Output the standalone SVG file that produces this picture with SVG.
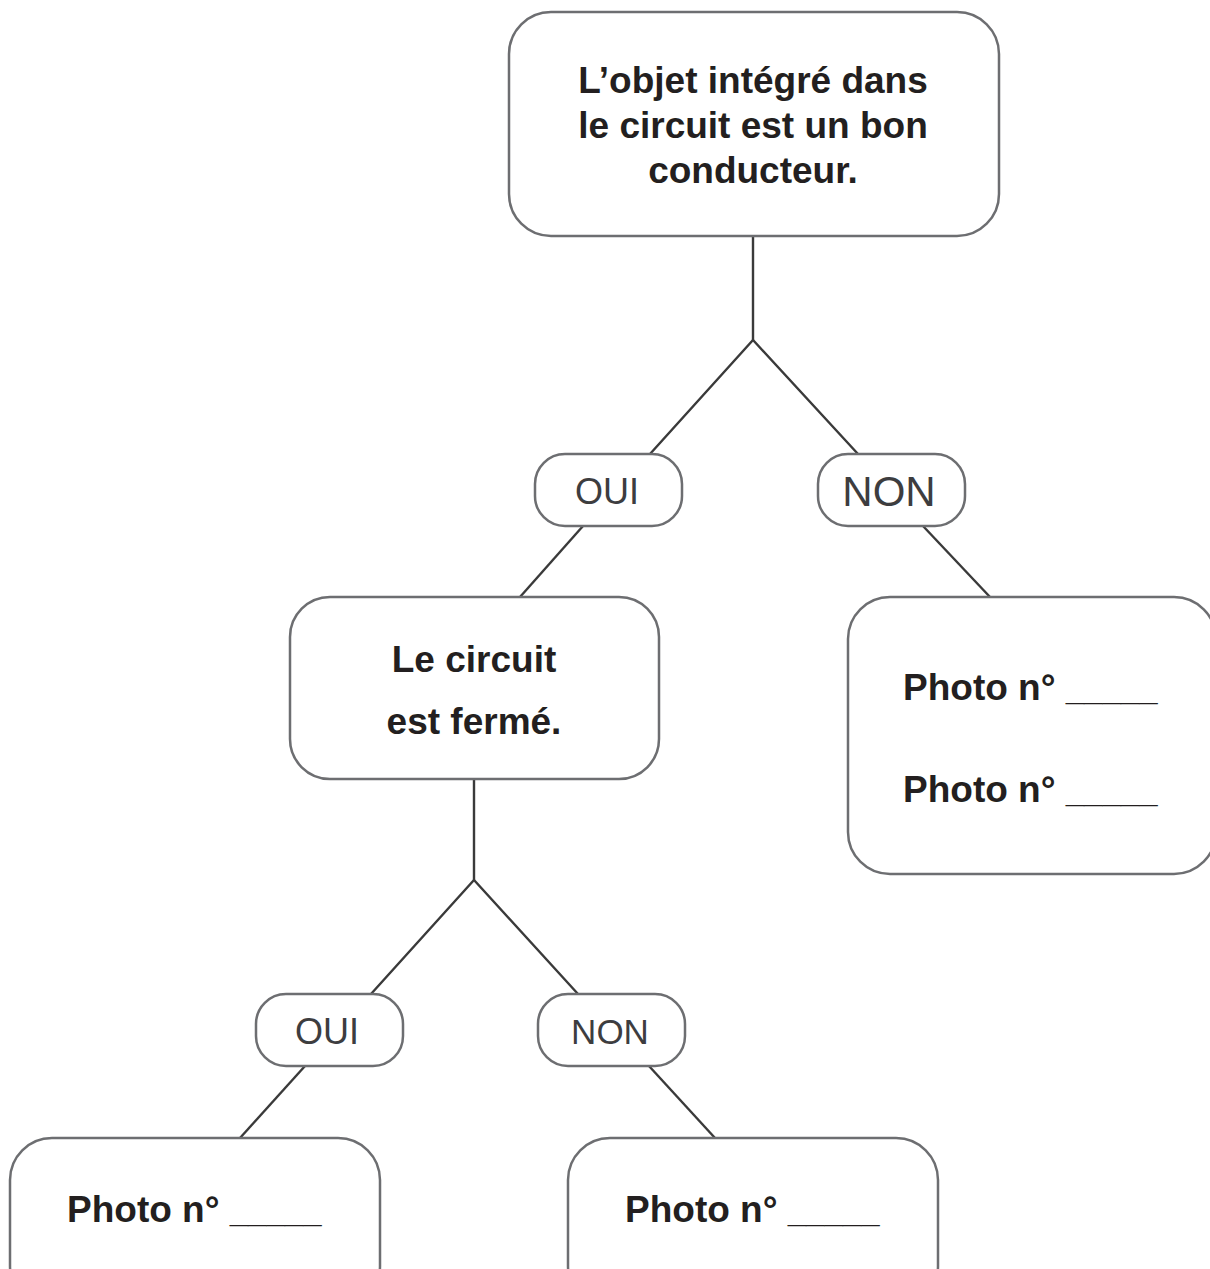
<svg xmlns="http://www.w3.org/2000/svg" width="1210" height="1269" viewBox="0 0 1210 1269">
<style>
.box{fill:#fff;stroke:#6d6e71;stroke-width:2.5}
.tag{fill:#fff;stroke:#6d6e71;stroke-width:2.5}
.t{font-family:"Liberation Sans",Arial,sans-serif;font-weight:bold;font-size:37px;fill:#231f20}
.u{font-size:33px}
.l{font-family:"Liberation Sans",Arial,sans-serif;font-size:36px;fill:#3d3d3f;text-anchor:middle}
.c{fill:none;stroke:#3a3a3a;stroke-width:2.4}
</style>
<rect width="1210" height="1269" fill="#fff"/>
<g id="connectors">
<polyline class="c" points="753,236 753,340"/>
<polyline class="c" points="650,454 753,340 858,454"/>
<line class="c" x1="583" y1="526" x2="520" y2="597"/>
<line class="c" x1="923" y1="526" x2="990" y2="597"/>
<polyline class="c" points="474,780 474,880"/>
<polyline class="c" points="371,994 474,880 578,994"/>
<line class="c" x1="305" y1="1066" x2="240" y2="1138"/>
<line class="c" x1="649" y1="1066" x2="715" y2="1138"/>
</g>
<g id="q1">
<rect class="box" x="509" y="12" width="490" height="224" rx="42"/>
<text class="t" text-anchor="middle" x="753" y="93">L’objet intégré dans</text>
<text class="t" text-anchor="middle" x="753" y="138">le circuit est un bon</text>
<text class="t" text-anchor="middle" x="753" y="183">conducteur.</text>
</g>
<g id="oui1">
<rect class="tag" x="535" y="454" width="147" height="72" rx="30"/>
<text class="l" x="607" y="504">OUI</text>
</g>
<g id="non1">
<rect class="tag" x="818" y="454" width="147" height="72" rx="30"/>
<text class="l" x="889" y="506" style="font-size:42px">NON</text>
</g>
<g id="q2">
<rect class="box" x="290" y="597" width="369" height="182" rx="40"/>
<text class="t" text-anchor="middle" x="474" y="672">Le circuit</text>
<text class="t" text-anchor="middle" x="474" y="734">est fermé.</text>
</g>
<g id="r1">
<rect class="box" x="848" y="597" width="368" height="277" rx="42"/>
<text class="t" x="903" y="700">Photo n° <tspan class="u">_____</tspan></text>
<text class="t" x="903" y="802">Photo n° <tspan class="u">_____</tspan></text>
</g>
<g id="oui2">
<rect class="tag" x="256" y="994" width="147" height="72" rx="30"/>
<text class="l" x="327" y="1044">OUI</text>
</g>
<g id="non2">
<rect class="tag" x="538" y="994" width="147" height="72" rx="30"/>
<text class="l" x="610" y="1044" style="font-size:35px">NON</text>
</g>
<g id="r2">
<rect class="box" x="10" y="1138" width="370" height="170" rx="42"/>
<text class="t" x="67" y="1222">Photo n° <tspan class="u">_____</tspan></text>
</g>
<g id="r3">
<rect class="box" x="568" y="1138" width="370" height="170" rx="42"/>
<text class="t" x="625" y="1222">Photo n° <tspan class="u">_____</tspan></text>
</g>
</svg>
